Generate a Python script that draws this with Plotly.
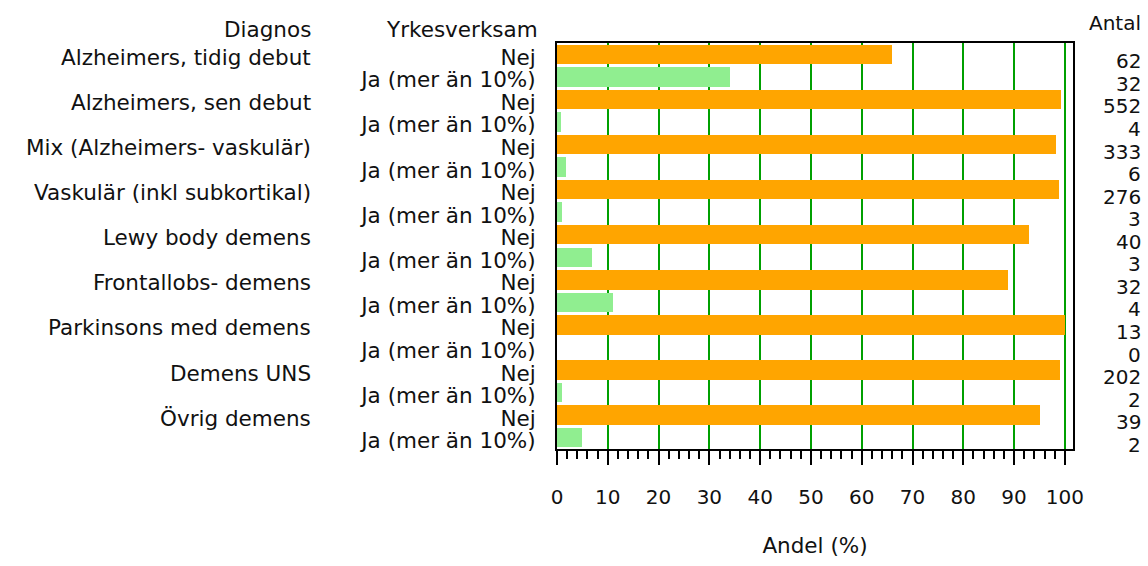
import plotly.graph_objects as go

# Data
diagnoser = [
    "Alzheimers, tidig debut",
    "Alzheimers, sen debut",
    "Mix (Alzheimers- vaskulär)",
    "Vaskulär (inkl subkortikal)",
    "Lewy body demens",
    "Frontallobs- demens",
    "Parkinsons med demens",
    "Demens UNS",
    "Övrig demens",
]
grupper = ["Nej", "Ja (mer än 10%)"]
antal_nej = [62, 552, 333, 276, 40, 32, 13, 202, 39]
antal_ja = [32, 4, 6, 3, 3, 4, 0, 2, 2]

FONT = "DejaVu Sans"
TXT = "#111111"
FS = 21.5    # labels on the left, axis title
FS_NUM = 20  # counts and x tick labels

# share within each diagnosis (Nej + Ja = 100 %)
andel_nej = [100 * n / (n + j) for n, j in zip(antal_nej, antal_ja)]
andel_ja = [100 * j / (n + j) for n, j in zip(antal_nej, antal_ja)]

rows_nej = [2 * i for i in range(len(diagnoser))]
rows_ja = [2 * i + 1 for i in range(len(diagnoser))]
n_rows = 2 * len(diagnoser)

fig = go.Figure()
fig.add_trace(go.Bar(
    x=andel_nej, y=rows_nej, orientation="h", width=0.86,
    marker=dict(color="#FFA500", line_width=0), name="Nej",
))
fig.add_trace(go.Bar(
    x=andel_ja, y=rows_ja, orientation="h", width=0.86,
    marker=dict(color="#90EE90", line_width=0), name="Ja (mer än 10%)",
))

annotations = []
for i, d in enumerate(diagnoser):
    annotations.append(dict(
        x=-0.473, xref="paper", y=rows_nej[i], yref="y", yshift=-3,
        text=d, showarrow=False, xanchor="right", yanchor="middle",
        font=dict(family=FONT, size=FS, color=TXT),
    ))

counts = []
for n, j in zip(antal_nej, antal_ja):
    counts += [n, j]
for r, c in enumerate(counts):
    annotations.append(dict(
        x=1.1357, xref="paper", y=r, yref="y", yshift=-7,
        text=str(c), showarrow=False, xanchor="right", yanchor="middle",
        font=dict(family=FONT, size=FS_NUM, color=TXT),
    ))

annotations += [
    dict(x=-0.473, xref="paper", y=1.033, yref="paper", text="Diagnos",
         showarrow=False, xanchor="right", yanchor="middle",
         font=dict(family=FONT, size=FS, color=TXT)),
    dict(x=-0.033, xref="paper", y=1.033, yref="paper", text="Yrkesverksam",
         showarrow=False, xanchor="right", yanchor="middle",
         font=dict(family=FONT, size=FS, color=TXT)),
    dict(x=1.1357, xref="paper", y=1.05, yref="paper", text="Antal",
         showarrow=False, xanchor="right", yanchor="middle",
         font=dict(family=FONT, size=FS_NUM, color=TXT)),
]

fig.update_layout(
    width=1148, height=566,
    margin=dict(l=557, r=75, t=43, b=104),
    paper_bgcolor="white", plot_bgcolor="white",
    showlegend=False,
    bargap=0,
    font=dict(family=FONT, size=FS, color=TXT),
    annotations=annotations,
)

fig.update_xaxes(
    range=[0, 101.6],
    tickvals=list(range(0, 101, 10)),
    ticks="outside", ticklen=14, tickwidth=2, tickcolor="black",
    minor=dict(dtick=2, ticks="outside", ticklen=8, tickwidth=2,
               tickcolor="black", showgrid=False),
    showgrid=True, gridcolor="#00A000", gridwidth=2,
    showline=True, linecolor="black", linewidth=2, mirror=True,
    zeroline=False,
    ticklabelstandoff=15,
    tickfont=dict(family=FONT, size=FS_NUM, color=TXT),
    title=dict(text="Andel (%)", standoff=30,
               font=dict(family=FONT, size=FS, color=TXT)),
)

fig.update_yaxes(
    range=[n_rows - 0.5, -0.5],
    tickvals=rows_nej + rows_ja,
    ticktext=[grupper[0]] * len(rows_nej) + [grupper[1]] * len(rows_ja),
    ticks="", showgrid=False, zeroline=False,
    showline=True, linecolor="black", linewidth=2, mirror=True,
    ticklabelstandoff=15, ticklabelshift=-3,
    tickfont=dict(family=FONT, size=FS, color=TXT),
)

# the page body has a default 8px margin; remove it so the figure sits at 0,0
fig.write_html(
    "out.html",
    config={"displayModeBar": False},
    post_script="document.body.style.margin='0px';",
)
